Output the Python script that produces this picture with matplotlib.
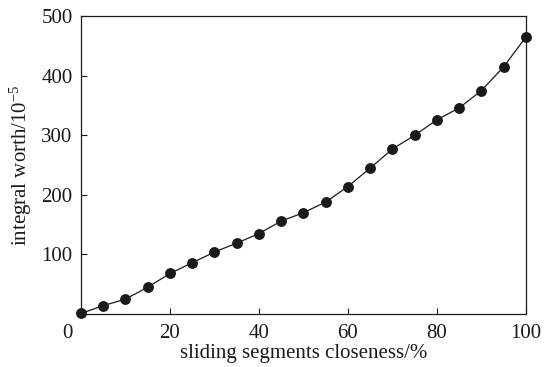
import numpy as np
import matplotlib
matplotlib.use("Agg")
import matplotlib.pyplot as plt

plt.rcParams["font.family"] = ["Liberation Serif", "DejaVu Serif"]
plt.rcParams["mathtext.fontset"] = "custom"
plt.rcParams["mathtext.rm"] = "Liberation Serif"
plt.rcParams["mathtext.it"] = "Liberation Serif:italic"

# data
closeness = [0, 5, 10, 15, 20, 25, 30, 35, 40, 45, 50,
             55, 60, 65, 70, 75, 80, 85, 90, 95, 100]
worth = [1, 14, 25, 45, 68, 86, 104, 119, 135, 156, 170,
         188, 214, 245, 277, 300, 326, 346, 375, 415, 465]
xticks = [20, 40, 60, 80, 100]
yticks = [100, 200, 300, 400, 500]

fig = plt.figure(figsize=(5.45, 3.67), dpi=100)
ax = fig.add_axes([0.1486, 0.1444, 0.8164, 0.8116])

ax.plot(closeness, worth, color="#1a1a1a", linewidth=0.9,
        marker="o", markersize=6.8, clip_on=False, zorder=3)

ax.set_xlim(0, 100)
ax.set_ylim(0, 500)
ax.set_xticks(xticks)
ax.set_yticks(yticks)
ax.tick_params(direction="in", length=4, width=0.8, labelsize=15, colors="#1a1a1a")
ax.tick_params(axis="x", pad=7)
ax.tick_params(axis="y", pad=6)
for s in ax.spines.values():
    s.set_linewidth(0.9)
    s.set_color("#1a1a1a")

# shared origin label
ax.annotate("0", xy=(0, 0), xycoords="axes fraction", xytext=(-10, -7.2),
            textcoords="offset points", ha="center", va="top", fontsize=15,
            color="#1a1a1a")

ax.set_xlabel("sliding segments closeness/%", fontsize=15, labelpad=1, color="#1a1a1a")
ax.set_ylabel(r"integral worth/10$^{-5}$", fontsize=15, labelpad=5, color="#1a1a1a")

fig.savefig("out.png", dpi=100)
